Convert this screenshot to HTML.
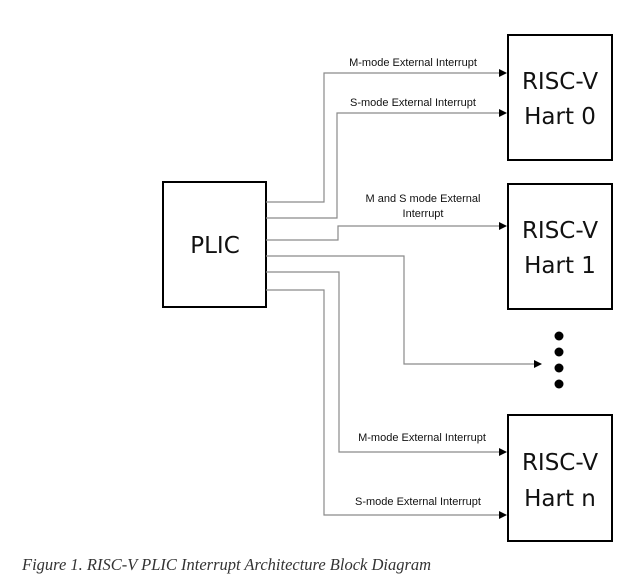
<!DOCTYPE html>
<html><head><style>
body{margin:0;background:#fff;}
svg{display:block;}
</style></head><body>
<svg width="625" height="584" viewBox="0 0 625 584" xmlns="http://www.w3.org/2000/svg">
<defs><marker id="a" markerWidth="8" markerHeight="8" refX="7" refY="4" orient="auto" markerUnits="userSpaceOnUse"><path d="M0,0 L8,4 L0,8 z" fill="#000"/></marker></defs>
<g fill="none" stroke="#000" stroke-width="2">
<rect x="163" y="182" width="103" height="125"/>
<rect x="508" y="35" width="104" height="125"/>
<rect x="508" y="184" width="104" height="125"/>
<rect x="508" y="415" width="104" height="126"/>
</g>
<g fill="none" stroke="#8a8a8a" stroke-width="1.2">
<polyline points="266,202 324,202 324,73 506,73" marker-end="url(#a)"/>
<polyline points="266,218 337,218 337,113 506,113" marker-end="url(#a)"/>
<polyline points="266,240 338,240 338,226 506,226" marker-end="url(#a)"/>
<polyline points="266,256 404,256 404,364 541,364" marker-end="url(#a)"/>
<polyline points="266,272 339,272 339,452 506,452" marker-end="url(#a)"/>
<polyline points="266,290 324,290 324,515 506,515" marker-end="url(#a)"/>
</g>
<g fill="#000">
<circle cx="559" cy="336" r="4.5"/><circle cx="559" cy="352" r="4.5"/>
<circle cx="559" cy="368" r="4.5"/><circle cx="559" cy="384" r="4.5"/>
</g>
<g font-family="Liberation Sans, sans-serif" font-size="11" fill="#111" text-anchor="middle">
<text x="413" y="66">M-mode External Interrupt</text>
<text x="413" y="106">S-mode External Interrupt</text>
<text x="423" y="202">M and S mode External</text>
<text x="423" y="217">Interrupt</text>
<text x="422" y="441">M-mode External Interrupt</text>
<text x="418" y="505">S-mode External Interrupt</text>
</g>
<g font-family="DejaVu Sans, Liberation Sans, sans-serif" font-size="23" fill="#111" text-anchor="middle">
<text x="215" y="253">PLIC</text>
<text x="560" y="89">RISC-V</text>
<text x="560" y="124">Hart 0</text>
<text x="560" y="238">RISC-V</text>
<text x="560" y="273">Hart 1</text>
<text x="560" y="470">RISC-V</text>
<text x="560" y="506">Hart n</text>
</g>
<text x="22" y="570" font-family="Liberation Serif, serif" font-style="italic" font-size="16.5" fill="#333">Figure 1. RISC-V PLIC Interrupt Architecture Block Diagram</text>
</svg>
</body></html>
